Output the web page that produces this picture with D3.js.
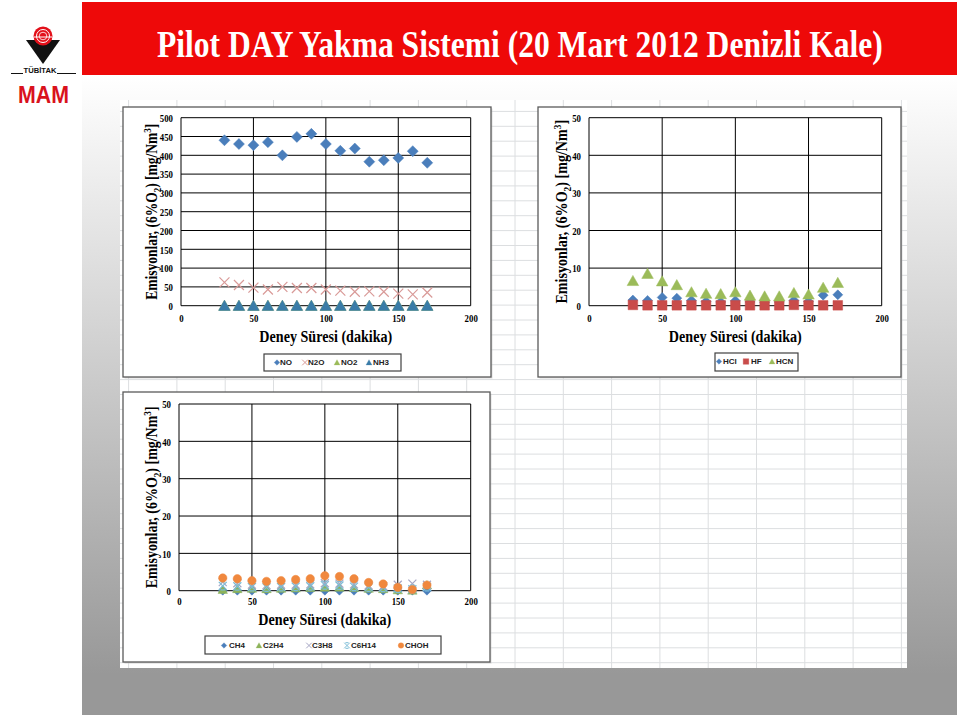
<!DOCTYPE html>
<html><head><meta charset="utf-8">
<script src="https://cdn.jsdelivr.net/npm/d3@7"></script>
<style>body{margin:0;background:#fff}svg{display:block}</style>
</head><body><script>
// ---------- DATA ----------
const titleText = "Pilot DAY Yakma Sistemi (20 Mart 2012 Denizli Kale)";
const xTitleText = "Deney Süresi (dakika)";
const times = [30,40,50,60,70,80,90,100,110,120,130,140,150,160,170];
const xTicks = [0,50,100,150,200];
const yTicksNOx = [0,50,100,150,200,250,300,350,400,450,500];
const yTicksSmall = [0,10,20,30,40,50];

const namesNOx = ["NO","N2O","NO2","NH3"];
const NO  = [440,430,427,435,400,449,457,430,412,418,383,387,393,411,380];
const N2O = [62,55,48,43,50,47,47,43,40,37,38,37,32,30,35];
const NO2 = [0,0,0,0,0,0,0,0,0,0,0,0,0,0,0];
const NH3 = [0,0,0,0,0,0,0,0,0,0,0,0,0,0,0];

const namesAcid = ["HCl","HF","HCN"];
const HCl = [1.5,1.4,2.2,2.0,1.4,1.1,1.0,1.3,1.0,0.9,1.0,1.4,1.1,2.8,2.9];
const HF  = [0.2,0.1,0.1,0.1,0.1,0.1,0.1,0.1,0.1,0.1,0.1,0.2,0.1,0.1,0.1];
const HCN = [6.6,8.5,6.5,5.5,3.6,3.2,3.1,3.6,2.7,2.5,2.5,3.4,3.0,4.8,6.1];

const namesHC = ["CH4","C2H4","C3H8","C6H14","CHOH"];
const CH4   = [0,0,0,0,0,0,0,0,0,0,0,0,0,0,0];
const C2H4  = [0.3,0.5,0.6,0.5,0.6,0.7,0.8,0.9,0.9,0.8,0.6,0.5,0.2,0.1,1.5];
const C3H8  = [2.3,2.0,1.6,1.5,1.6,1.6,1.7,2.0,1.9,1.7,1.4,1.2,1.6,1.9,1.6];
const C6H14 = [1.3,1.2,1.0,0.9,1.0,1.1,1.2,1.5,1.4,1.1,0.9,0.8,0.6,0.4,1.0];
const CHOH  = [3.4,3.2,2.7,2.5,2.7,3.0,3.2,4.0,3.8,3.2,2.2,1.8,0.9,0.3,1.5];

// ---------- LAYOUT / STYLE ----------
const W = 960, H = 716;
const svg = d3.select("body").append("svg").attr("width", W).attr("height", H);
const defs = svg.append("defs");
const grad = defs.append("linearGradient").attr("id","bg").attr("gradientUnits","userSpaceOnUse")
  .attr("x1",0).attr("y1",75).attr("x2",0).attr("y2",675);
grad.append("stop").attr("offset",0).attr("stop-color","#ffffff");
grad.append("stop").attr("offset",1).attr("stop-color","#989898");

svg.append("rect").attr("width",W).attr("height",H).attr("fill","#fff");
svg.append("rect").attr("x",82).attr("y",75).attr("width",875).attr("height",640).attr("fill","url(#bg)");
// title bar
svg.append("rect").attr("x",82).attr("y",2).attr("width",875).attr("height",73).attr("fill","#ee0909");

function fitText(sel, target){
  const len = sel.node().getComputedTextLength();
  return target/len;
}
const title = svg.append("text").text(titleText)
  .attr("font-family","Liberation Serif, Times New Roman, serif").attr("font-weight","bold")
  .attr("font-size",38).attr("fill","#fff");
title.attr("transform",`translate(157,57) scale(${fitText(title,726)},1)`);

// logo
const logo = svg.append("g");
logo.append("path").attr("d","M26,40 L60,40 L43,64 Z").attr("fill","#111");
logo.append("circle").attr("cx",43).attr("cy",36).attr("r",9.5).attr("fill","#e3101a");
logo.append("circle").attr("cx",43).attr("cy",36).attr("r",6.5).attr("fill","none").attr("stroke","#fff").attr("stroke-width",1);
logo.append("circle").attr("cx",43).attr("cy",36).attr("r",3.8).attr("fill","none").attr("stroke","#fff").attr("stroke-width",0.8);
logo.append("line").attr("x1",34).attr("x2",52).attr("y1",37).attr("y2",37).attr("stroke","#fff").attr("stroke-width",1);
logo.append("line").attr("x1",11).attr("x2",23).attr("y1",73.5).attr("y2",73.5).attr("stroke","#111").attr("stroke-width",1);
logo.append("line").attr("x1",57).attr("x2",76).attr("y1",73.5).attr("y2",73.5).attr("stroke","#111").attr("stroke-width",1);
const tb = logo.append("text").text("TÜBİTAK").attr("font-family","Liberation Sans, Arial, sans-serif")
  .attr("font-weight","bold").attr("font-size",7.5).attr("fill","#111");
tb.attr("transform",`translate(23.5,73) scale(${fitText(tb,33)},1)`);
const mam = logo.append("text").text("MAM").attr("font-family","Liberation Sans, Arial, sans-serif")
  .attr("font-weight","bold").attr("font-size",23).attr("fill","#d9121c");
mam.attr("transform",`translate(18,103) scale(${fitText(mam,51)},1.05)`);

// spreadsheet background
const sheet = svg.append("g");
sheet.append("rect").attr("x",120).attr("y",100).attr("width",787).attr("height",568).attr("fill","#fff");
sheet.selectAll("line.v").data(d3.range(128.6, 907, 48.3)).join("line")
  .attr("x1",d=>d).attr("x2",d=>d).attr("y1",100).attr("y2",668).attr("stroke","#dcdee0").attr("stroke-width",1);
sheet.selectAll("line.h").data(d3.range(111.4, 668, 14.9)).join("line")
  .attr("x1",120).attr("x2",907).attr("y1",d=>d).attr("y2",d=>d).attr("stroke","#dcdee0").attr("stroke-width",1);

// marker shapes
function markerPath(type, r){
  switch(type){
    case "diamond": return `M0,${-r}L${r},0L0,${r}L${-r},0Z`;
    case "square": return `M${-r},${-r}h${2*r}v${2*r}h${-2*r}Z`;
    case "triangle": return `M0,${-r}L${r*1.05},${r*0.85}L${-r*1.05},${r*0.85}Z`;
    case "x": return `M${-r},${-r}L${r},${r}M${r},${-r}L${-r},${r}`;
    case "star": return `M${-r},${-r}L${r},${r}M${r},${-r}L${-r},${r}M${-r*0.55},${-r}H${r*0.55}M${-r*0.55},${r}H${r*0.55}`;
    case "circle": return d3.symbol(d3.symbolCircle, Math.PI*r*r)();
  }
}
const stroked = t => t==="x" || t==="star";

const charts = [
  { box:[123,107,491,377], plot:[181,117.7,470.7,305.7], yMax:500, yTicks:yTicksNOx,
    yTitle:{x:152, len:176}, xTickY:322, xTitleY:342,
    legend:{box:[264,354,401,371], cy:362.5, items:[277,305,337,369], texts:[280,308,341,373]},
    series:[
      {name:namesNOx[0], values:NO,  type:"diamond",  color:"#4a7ebb", r:5.5},
      {name:namesNOx[1], values:N2O, type:"x",        color:"#d99a98", r:5},
      {name:namesNOx[2], values:NO2, type:"triangle", color:"#9bbb59", r:5.5},
      {name:namesNOx[3], values:NH3, type:"triangle", color:"#3a7ca8", r:5.5}
    ]},
  { box:[538,107,901,377], plot:[589,117.7,881.7,305.7], yMax:50, yTicks:yTicksSmall,
    yTitle:{x:562, len:184}, xTickY:322, xTitleY:342,
    legend:{box:[715,353,798,371], cy:361.5, items:[719,746,772], texts:[723,751,776]},
    series:[
      {name:namesAcid[0], values:HCl, type:"diamond",  color:"#4a7ebb", r:5},
      {name:namesAcid[1], values:HF,  type:"square",   color:"#c94c4a", r:4.8},
      {name:namesAcid[2], values:HCN, type:"triangle", color:"#9bbb59", r:5.5}
    ]},
  { box:[123,392,490,662], plot:[179,404,470.7,590.7], yMax:50, yTicks:yTicksSmall,
    yTitle:{x:152, len:182}, xTickY:605, xTitleY:625,
    legend:{box:[205,636,441,654], cy:645.5, items:[224,259,309,347,401], texts:[229,263,312,351,405]},
    series:[
      {name:namesHC[0], values:CH4,   type:"diamond",  color:"#4a7ebb", r:4.5},
      {name:namesHC[1], values:C2H4,  type:"triangle", color:"#8db35a", r:4.5},
      {name:namesHC[2], values:C3H8,  type:"x",        color:"#a6a6c4", r:4},
      {name:namesHC[3], values:C6H14, type:"star",     color:"#7bbcd6", r:4},
      {name:namesHC[4], values:CHOH,  type:"circle",   color:"#f0883e", r:4.2}
    ]}
];

const serif = "Liberation Serif, Times New Roman, serif";
const sansL = "Liberation Sans, Arial, sans-serif";
const tickSX = 0.8;

charts.forEach(c => {
  const g = svg.append("g");
  const [bx0,by0,bx1,by1] = c.box;
  g.append("rect").attr("x",bx0+1.5).attr("y",by0+1.5).attr("width",bx1-bx0).attr("height",by1-by0).attr("fill","#bdbdbd").attr("opacity",0.5);
  g.append("rect").attr("x",bx0).attr("y",by0).attr("width",bx1-bx0).attr("height",by1-by0)
    .attr("fill","#fff").attr("stroke","#5a5a5a").attr("stroke-width",1.3);
  const [px0,py0,px1,py1] = c.plot;
  const x = d3.scaleLinear().domain([0,200]).range([px0,px1]);
  const y = d3.scaleLinear().domain([0,c.yMax]).range([py1,py0]);

  // gridlines
  g.append("g").selectAll("line").data(c.yTicks).join("line")
    .attr("x1",px0).attr("x2",px1).attr("y1",d=>y(d)).attr("y2",d=>y(d))
    .attr("stroke","#000").attr("stroke-width",1);
  g.append("g").selectAll("line").data(xTicks).join("line")
    .attr("x1",d=>x(d)).attr("x2",d=>x(d)).attr("y1",py0).attr("y2",py1)
    .attr("stroke","#000").attr("stroke-width",1);

  // axes
  const ya = g.append("g").attr("transform",`translate(${px0},0)`)
    .call(d3.axisLeft(y).tickValues(c.yTicks).tickSize(0).tickPadding(0).tickFormat(d3.format("d")));
  ya.select(".domain").remove();
  ya.selectAll("text").attr("font-family",serif).attr("font-weight","bold").attr("font-size",11)
    .attr("fill","#000").attr("x",-8/tickSX).attr("dy","0.35em").attr("transform",`scale(${tickSX},1)`);
  const xa = g.append("g").attr("transform",`translate(0,${c.xTickY})`)
    .call(d3.axisBottom(x).tickValues(xTicks).tickSize(0).tickPadding(0).tickFormat(d3.format("d")));
  xa.select(".domain").remove();
  xa.selectAll("text").attr("font-family",serif).attr("font-weight","bold").attr("font-size",11)
    .attr("fill","#000").attr("y",0).attr("dy",0).attr("transform",`scale(${tickSX},1)`);

  // axis titles
  const xt = g.append("text").text(xTitleText).attr("font-family",serif).attr("font-weight","bold")
    .attr("font-size",16).attr("text-anchor","middle").attr("fill","#000");
  xt.attr("transform",`translate(${(px0+px1)/2},${c.xTitleY}) scale(${fitText(xt,133)},1)`);

  const yt = g.append("text").attr("font-family",serif).attr("font-weight","bold")
    .attr("font-size",16.5).attr("text-anchor","middle").attr("fill","#000");
  yt.append("tspan").text("Emisyonlar, (6%O");
  yt.append("tspan").text("2").attr("font-size",11).attr("dy",4);
  yt.append("tspan").text(") [mg/Nm").attr("dy",-4);
  yt.append("tspan").text("3").attr("font-size",11).attr("dy",-6);
  yt.append("tspan").text("]").attr("dy",6);
  yt.attr("transform",`translate(${c.yTitle.x+5},${(py0+py1)/2}) rotate(-90) scale(${fitText(yt,c.yTitle.len)},1)`);

  // points
  c.series.forEach(s => {
    g.append("g").selectAll("path").data(times.map((t,i)=>[t,s.values[i]])).join("path")
      .attr("transform",d=>`translate(${x(d[0])},${y(d[1])})`)
      .attr("d",markerPath(s.type,s.r))
      .attr("fill",stroked(s.type)?"none":s.color)
      .attr("stroke",s.color).attr("stroke-width",stroked(s.type)?1.2:0.5);
  });

  // legend
  const L = c.legend;
  g.append("rect").attr("x",L.box[0]).attr("y",L.box[1]).attr("width",L.box[2]-L.box[0]).attr("height",L.box[3]-L.box[1])
    .attr("fill","#fff").attr("stroke","#404040").attr("stroke-width",1.2);
  c.series.forEach((s,i) => {
    g.append("path").attr("transform",`translate(${L.items[i]},${L.cy})`)
      .attr("d",markerPath(s.type,2.8))
      .attr("fill",stroked(s.type)?"none":s.color).attr("stroke",s.color).attr("stroke-width",stroked(s.type)?1:0.3);
    g.append("text").text(s.name).attr("x",L.texts[i]).attr("y",L.cy).attr("dy","0.35em")
      .attr("font-family",sansL).attr("font-weight","bold").attr("font-size",8).attr("fill","#222");
  });
});
</script></body></html>
